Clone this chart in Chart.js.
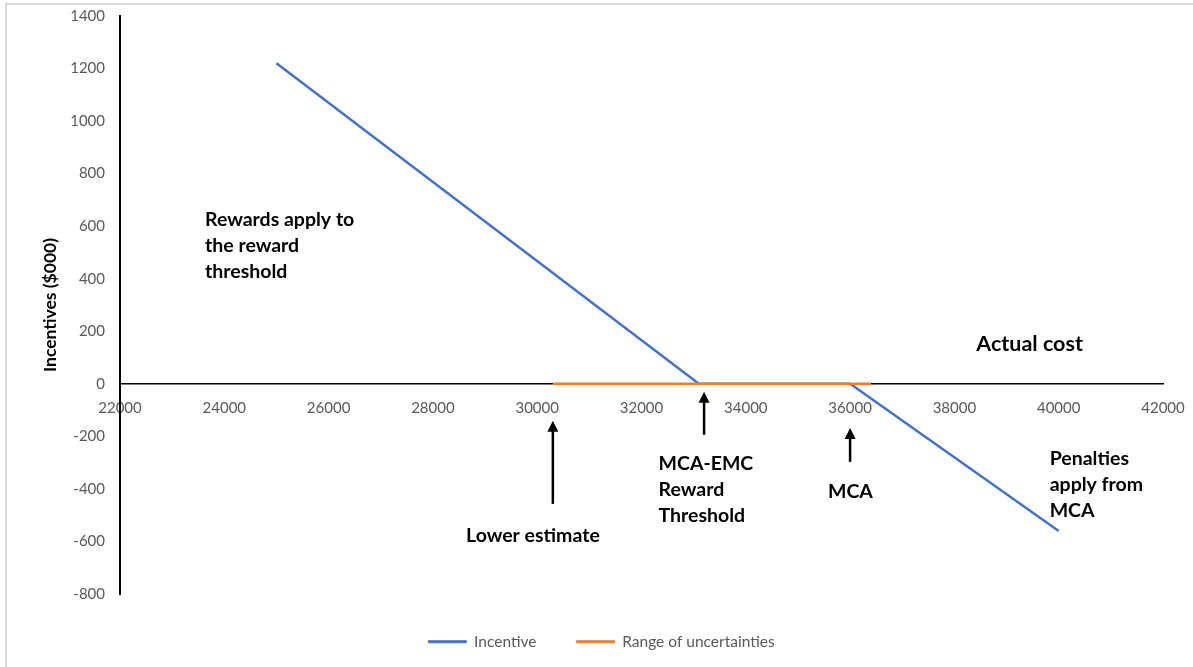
<!DOCTYPE html>
<html>
<head>
<meta charset="utf-8">
<title>Incentives vs actual cost</title>
<script src="https://cdn.jsdelivr.net/npm/chart.js@4"></script>
<style>
  html, body { margin: 0; padding: 0; background: #fff; }
  #wrap { width: 1193px; height: 667px; }
</style>
</head>
<body>
<div id="wrap"><canvas id="myChart" width="1193" height="667"></canvas></div>
<script>
// incentive curve: rewards down to the threshold, flat, then penalties past MCA
const incentiveCost = [25000, 33100, 36000, 40000];
const incentiveValue = [1220, 0, 0, -560];

// range of uncertainties along the zero line
const rangeCost = [30300, 36400];
const rangeValue = [0, 0];

const costTicks = [22000, 24000, 26000, 28000, 30000, 32000, 34000, 36000, 38000, 40000, 42000];
const incentiveTicks = [-800, -600, -400, -200, 0, 200, 400, 600, 800, 1000, 1200, 1400];

// text notes and arrows, placed in data units
const notes = [
  { lines: ['Rewards apply to', 'the reward', 'threshold'], x: 23630, y: 625 },
  { lines: ['Actual cost'], x: 38420, y: 152, big: true },
  { lines: ['Lower estimate'], x: 28635, y: -579 },
  { lines: ['MCA-EMC', 'Reward', 'Threshold'], x: 32327, y: -305 },
  { lines: ['MCA'], x: 35577, y: -411 },
  { lines: ['Penalties', 'apply from', 'MCA'], x: 39827, y: -286 }
];
const arrows = [
  { x: 30300, from: -457, to: -141 },
  { x: 33200, from: -194, to: -30 },
  { x: 36000, from: -297, to: -168 }
];

const toPoints = (xs, ys) => xs.map((x, i) => ({ x: x, y: ys[i] }));

const BLUE = '#4472C4';
const ORANGE = '#ED7D31';
const FONT = 'Lato, "Open Sans", sans-serif';

const notesPlugin = {
  id: 'notes',
  beforeDraw(chart) {
    const c = chart.ctx;
    c.save();
    c.fillStyle = '#fff';
    c.fillRect(0, 0, chart.width, chart.height);
    c.strokeStyle = '#d9d9d9';
    c.lineWidth = 2;
    c.strokeRect(6, 4, chart.width + 10, chart.height + 10);
    c.restore();
  },
  afterDraw(chart) {
    const c = chart.ctx;
    const xs = chart.scales.x, ys = chart.scales.y;
    c.save();
    c.fillStyle = '#000';
    c.textBaseline = 'middle';
    c.textAlign = 'left';
    notes.forEach(n => {
      c.font = 'bold ' + (n.big ? 21.5 : 19.5) + 'px ' + FONT;
      const px = xs.getPixelForValue(n.x);
      const py = ys.getPixelForValue(n.y);
      n.lines.forEach((t, i) => c.fillText(t, px, py + i * 26));
    });
    c.strokeStyle = '#000';
    c.lineWidth = 2.5;
    arrows.forEach(a => {
      const px = xs.getPixelForValue(a.x);
      const y0 = ys.getPixelForValue(a.from);
      const y1 = ys.getPixelForValue(a.to);
      c.beginPath();
      c.moveTo(px, y0);
      c.lineTo(px, y1 + 8);
      c.stroke();
      c.beginPath();
      c.moveTo(px, y1);
      c.lineTo(px - 5.5, y1 + 11);
      c.lineTo(px + 5.5, y1 + 11);
      c.closePath();
      c.fill();
    });
    c.restore();
  }
};

// tick marks are kept (for label spacing) but painted transparent
const hiddenTicks = { display: true, drawOnChartArea: false, drawTicks: true, tickLength: 15, tickColor: 'rgba(0,0,0,0)' };

const ctx = document.getElementById('myChart');
const myChart = new Chart(ctx, {
  type: 'scatter',
  data: {
    datasets: [{
      label: 'Incentive',
      data: toPoints(incentiveCost, incentiveValue),
      showLine: true,
      borderColor: BLUE,
      backgroundColor: BLUE,
      borderWidth: 2.5,
      pointRadius: 0,
      order: 2
    }, {
      label: 'Range of uncertainties',
      data: toPoints(rangeCost, rangeValue),
      showLine: true,
      borderColor: ORANGE,
      backgroundColor: ORANGE,
      borderWidth: 2.5,
      pointRadius: 0,
      order: 1
    }]
  },
  options: {
    responsive: false,
    animation: false,
    layout: { padding: { top: 16, right: 30, bottom: 7.5, left: 40 } },
    scales: {
      x: {
        type: 'linear',
        position: { y: 0 },
        min: costTicks[0],
        max: costTicks[costTicks.length - 1],
        afterBuildTicks: s => { s.ticks = costTicks.map(v => ({ value: v })); },
        grid: hiddenTicks,
        border: { color: '#000', width: 1.5 },
        ticks: {
          color: '#595959', padding: 0, maxRotation: 0,
          font: { family: FONT, size: 15 },
          callback: v => String(v)
        }
      },
      y: {
        type: 'linear',
        position: 'left',
        min: incentiveTicks[0],
        max: incentiveTicks[incentiveTicks.length - 1],
        afterBuildTicks: s => { s.ticks = incentiveTicks.map(v => ({ value: v })); },
        afterFit: s => { s.width = 80; },
        grid: hiddenTicks,
        border: { color: '#000', width: 2 },
        ticks: {
          color: '#595959', padding: 0,
          font: { family: FONT, size: 15 },
          callback: v => String(v)
        },
        title: {
          display: true,
          text: 'Incentives ($000)',
          color: '#000',
          font: { family: FONT, size: 17.5, weight: 'bold' },
          padding: { top: 0, bottom: 0 }
        }
      }
    },
    plugins: {
      legend: {
        position: 'bottom',
        labels: {
          color: '#595959',
          font: { family: FONT, size: 15.5 },
          boxWidth: 38,
          boxHeight: 2,
          padding: 40,
          sort: (a, b) => a.datasetIndex - b.datasetIndex,
          generateLabels: chart => Chart.defaults.plugins.legend.labels.generateLabels(chart)
            .map(l => Object.assign(l, { lineWidth: 1 }))
        }
      },
      tooltip: { enabled: false }
    }
  },
  plugins: [notesPlugin]
});
</script>
</body>
</html>
